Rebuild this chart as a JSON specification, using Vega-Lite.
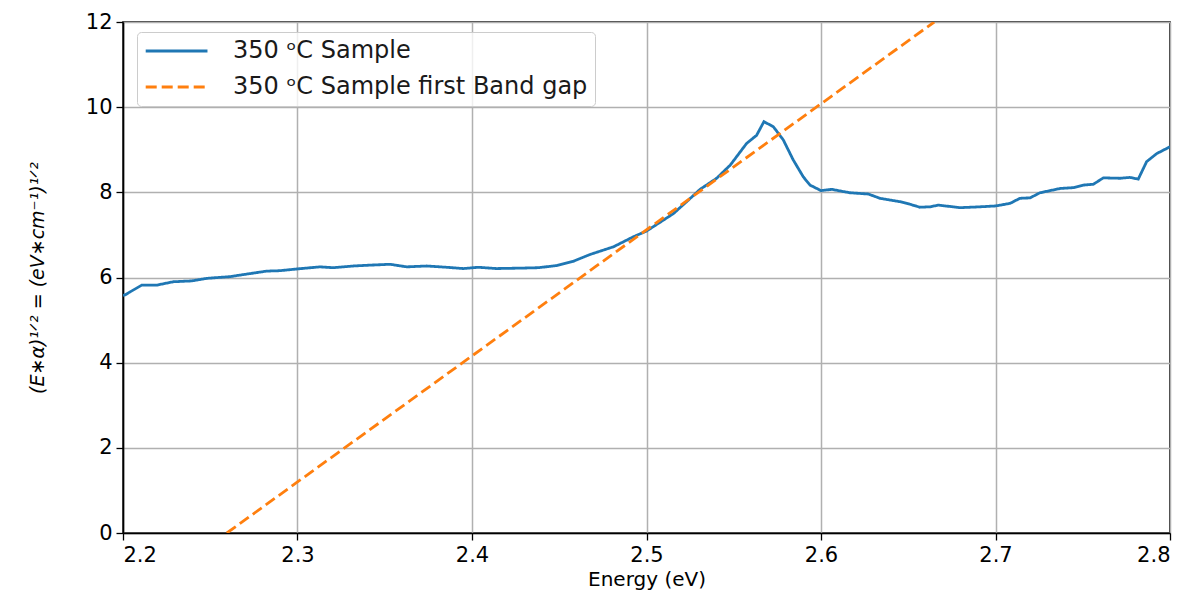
{
  "$schema": "https://vega.github.io/schema/vega-lite/v6.json",
  "width": 1047,
  "height": 511,
  "autosize": {"type": "none"},
  "padding": {"left": 123, "top": 22, "right": 25, "bottom": 61},
  "background": "white",
  "config": {
    "font": "DejaVu Sans",
    "view": {"stroke": "black", "strokeWidth": 1.6},
    "axis": {
      "labelFontSize": 21,
      "titleFontSize": 20,
      "labelColor": "black",
      "titleColor": "black",
      "titleFontWeight": "normal",
      "tickColor": "black",
      "tickSize": 7,
      "tickWidth": 1.3,
      "domainColor": "black",
      "domainWidth": 1.6,
      "gridColor": "#b0b0b0",
      "gridWidth": 1.5,
      "labelPadding": 4
    },
    "legend": {
      "orient": "none",
      "legendX": 14,
      "legendY": 10,
      "labelFontSize": 24,
      "labelColor": "#1a1a1a",
      "labelFont": "DejaVu Sans",
      "symbolType": "M-1,0H5",
      "symbolSize": 424,
      "symbolStrokeWidth": 2.8,
      "strokeColor": "#cccccc",
      "fillColor": "rgba(255,255,255,0.8)",
      "cornerRadius": 4,
      "padding": 7,
      "rowPadding": 12,
      "labelOffset": 65,
      "labelLimit": 0
    }
  },
  "data": {
    "values": [
      {"series": "350 ᵒC Sample", "E": 2.2, "v": 5.58},
      {"series": "350 ᵒC Sample", "E": 2.2011, "v": 5.59},
      {"series": "350 ᵒC Sample", "E": 2.204, "v": 5.66},
      {"series": "350 ᵒC Sample", "E": 2.2107, "v": 5.82},
      {"series": "350 ᵒC Sample", "E": 2.2193, "v": 5.82},
      {"series": "350 ᵒC Sample", "E": 2.2288, "v": 5.9},
      {"series": "350 ᵒC Sample", "E": 2.2394, "v": 5.92},
      {"series": "350 ᵒC Sample", "E": 2.248, "v": 5.98},
      {"series": "350 ᵒC Sample", "E": 2.2613, "v": 6.02},
      {"series": "350 ᵒC Sample", "E": 2.2709, "v": 6.08},
      {"series": "350 ᵒC Sample", "E": 2.2823, "v": 6.15},
      {"series": "350 ᵒC Sample", "E": 2.29, "v": 6.16},
      {"series": "350 ᵒC Sample", "E": 2.2995, "v": 6.2},
      {"series": "350 ᵒC Sample", "E": 2.3129, "v": 6.25},
      {"series": "350 ᵒC Sample", "E": 2.3205, "v": 6.23},
      {"series": "350 ᵒC Sample", "E": 2.332, "v": 6.27},
      {"series": "350 ᵒC Sample", "E": 2.3415, "v": 6.29},
      {"series": "350 ᵒC Sample", "E": 2.353, "v": 6.31},
      {"series": "350 ᵒC Sample", "E": 2.3626, "v": 6.25},
      {"series": "350 ᵒC Sample", "E": 2.374, "v": 6.27},
      {"series": "350 ᵒC Sample", "E": 2.3855, "v": 6.24},
      {"series": "350 ᵒC Sample", "E": 2.395, "v": 6.21},
      {"series": "350 ᵒC Sample", "E": 2.4036, "v": 6.24},
      {"series": "350 ᵒC Sample", "E": 2.4141, "v": 6.21},
      {"series": "350 ᵒC Sample", "E": 2.4275, "v": 6.22},
      {"series": "350 ᵒC Sample", "E": 2.438, "v": 6.23},
      {"series": "350 ᵒC Sample", "E": 2.4485, "v": 6.28},
      {"series": "350 ᵒC Sample", "E": 2.458, "v": 6.38},
      {"series": "350 ᵒC Sample", "E": 2.4676, "v": 6.54},
      {"series": "350 ᵒC Sample", "E": 2.481, "v": 6.72},
      {"series": "350 ᵒC Sample", "E": 2.4927, "v": 6.96},
      {"series": "350 ᵒC Sample", "E": 2.5, "v": 7.09},
      {"series": "350 ᵒC Sample", "E": 2.5154, "v": 7.5},
      {"series": "350 ᵒC Sample", "E": 2.523, "v": 7.78},
      {"series": "350 ᵒC Sample", "E": 2.5307, "v": 8.07},
      {"series": "350 ᵒC Sample", "E": 2.5402, "v": 8.33},
      {"series": "350 ᵒC Sample", "E": 2.548, "v": 8.64},
      {"series": "350 ᵒC Sample", "E": 2.5574, "v": 9.15},
      {"series": "350 ᵒC Sample", "E": 2.5631, "v": 9.34},
      {"series": "350 ᵒC Sample", "E": 2.5673, "v": 9.66},
      {"series": "350 ᵒC Sample", "E": 2.5727, "v": 9.54},
      {"series": "350 ᵒC Sample", "E": 2.5784, "v": 9.23},
      {"series": "350 ᵒC Sample", "E": 2.5841, "v": 8.76},
      {"series": "350 ᵒC Sample", "E": 2.5899, "v": 8.36},
      {"series": "350 ᵒC Sample", "E": 2.5937, "v": 8.17},
      {"series": "350 ᵒC Sample", "E": 2.6, "v": 8.04},
      {"series": "350 ᵒC Sample", "E": 2.6061, "v": 8.07},
      {"series": "350 ᵒC Sample", "E": 2.6166, "v": 7.99},
      {"series": "350 ᵒC Sample", "E": 2.6271, "v": 7.96},
      {"series": "350 ᵒC Sample", "E": 2.6338, "v": 7.86},
      {"series": "350 ᵒC Sample", "E": 2.6453, "v": 7.78},
      {"series": "350 ᵒC Sample", "E": 2.651, "v": 7.72},
      {"series": "350 ᵒC Sample", "E": 2.6567, "v": 7.65},
      {"series": "350 ᵒC Sample", "E": 2.6625, "v": 7.66},
      {"series": "350 ᵒC Sample", "E": 2.6672, "v": 7.7},
      {"series": "350 ᵒC Sample", "E": 2.6797, "v": 7.64},
      {"series": "350 ᵒC Sample", "E": 2.6911, "v": 7.66},
      {"series": "350 ᵒC Sample", "E": 2.7, "v": 7.68},
      {"series": "350 ᵒC Sample", "E": 2.7083, "v": 7.74},
      {"series": "350 ᵒC Sample", "E": 2.714, "v": 7.86},
      {"series": "350 ᵒC Sample", "E": 2.7198, "v": 7.87},
      {"series": "350 ᵒC Sample", "E": 2.7255, "v": 7.99},
      {"series": "350 ᵒC Sample", "E": 2.737, "v": 8.09},
      {"series": "350 ᵒC Sample", "E": 2.7446, "v": 8.11},
      {"series": "350 ᵒC Sample", "E": 2.7503, "v": 8.17},
      {"series": "350 ᵒC Sample", "E": 2.7561, "v": 8.19},
      {"series": "350 ᵒC Sample", "E": 2.7618, "v": 8.34},
      {"series": "350 ᵒC Sample", "E": 2.7713, "v": 8.33},
      {"series": "350 ᵒC Sample", "E": 2.777, "v": 8.35},
      {"series": "350 ᵒC Sample", "E": 2.7818, "v": 8.31},
      {"series": "350 ᵒC Sample", "E": 2.7866, "v": 8.72},
      {"series": "350 ᵒC Sample", "E": 2.7924, "v": 8.91},
      {"series": "350 ᵒC Sample", "E": 2.8, "v": 9.07},
      {"series": "350 ᵒC Sample first Band gap", "E": 2.2595, "v": 0},
      {"series": "350 ᵒC Sample first Band gap", "E": 2.6649, "v": 12}
    ]
  },
  "mark": {"type": "line", "strokeWidth": 2.8, "clip": true},
  "encoding": {
    "x": {
      "field": "E",
      "type": "quantitative",
      "scale": {"domain": [2.2, 2.8], "nice": false, "zero": false},
      "axis": {
        "title": "Energy (eV)",
        "values": [2.2, 2.3, 2.4, 2.5, 2.6, 2.7, 2.8],
        "format": ".1f",
        "titlePadding": 4
      }
    },
    "y": {
      "field": "v",
      "type": "quantitative",
      "scale": {"domain": [0, 12], "nice": false},
      "axis": {
        "title": "(E∗α)¹ᐟ² = (eV∗cm⁻¹)¹ᐟ²",
        "titleFontStyle": "italic",
        "titleFontSize": 19,
        "values": [0, 2, 4, 6, 8, 10, 12],
        "titlePadding": 38
      }
    },
    "color": {
      "field": "series",
      "type": "nominal",
      "scale": {
        "domain": ["350 ᵒC Sample", "350 ᵒC Sample first Band gap"],
        "range": ["#1f77b4", "#ff7f0e"]
      },
      "legend": {"title": null}
    },
    "strokeDash": {
      "field": "series",
      "type": "nominal",
      "scale": {
        "domain": ["350 ᵒC Sample", "350 ᵒC Sample first Band gap"],
        "range": [[1, 0], [11, 5]]
      },
      "legend": {"title": null}
    }
  }
}
